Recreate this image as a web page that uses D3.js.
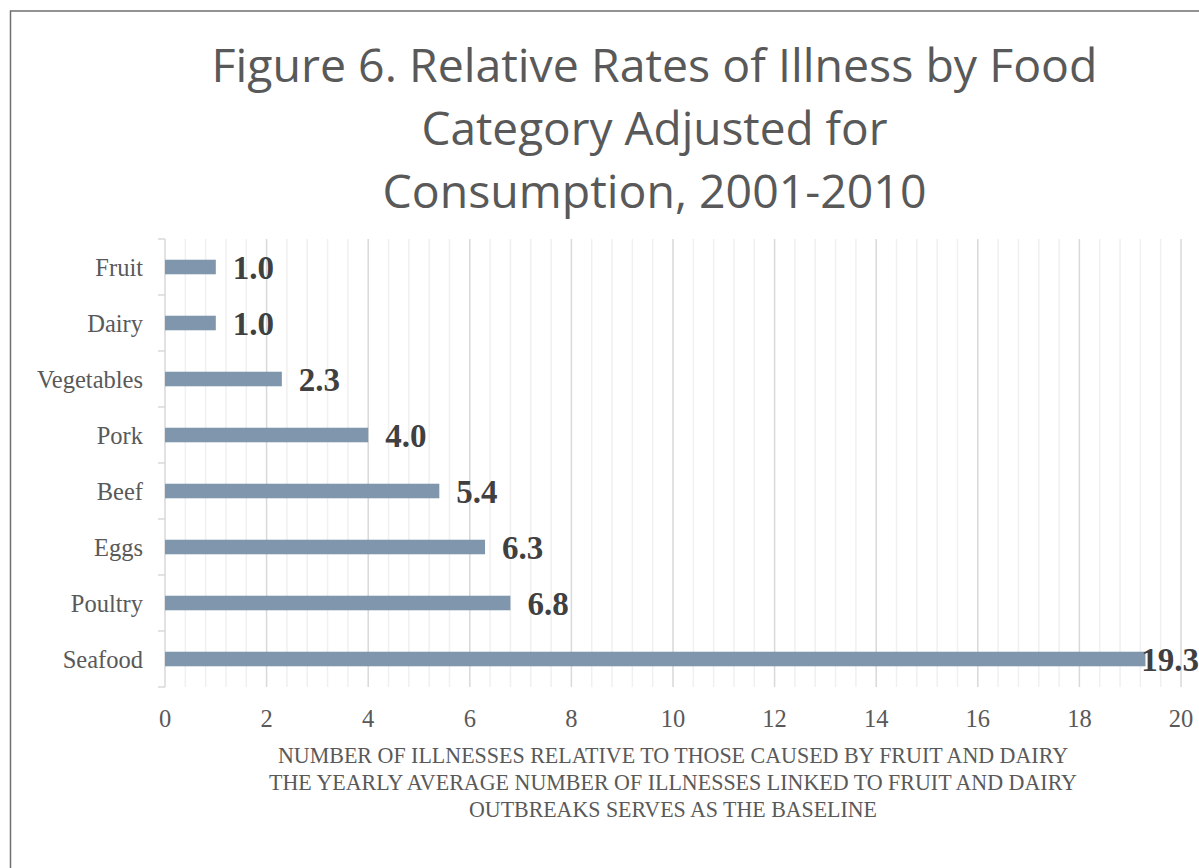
<!DOCTYPE html>
<html>
<head>
<meta charset="utf-8">
<script src="https://cdn.jsdelivr.net/npm/d3@7"></script>
<style>
  html, body { margin: 0; padding: 0; background: #ffffff; overflow: hidden; }
  svg { display: block; }
</style>
</head>
<body>
<svg id="chart" width="1199" height="868"></svg>
<script>
// Food categories, top to bottom
const categories = ["Fruit", "Dairy", "Vegetables", "Pork", "Beef", "Eggs", "Poultry", "Seafood"];
// Relative illness rate (fruit and dairy = baseline)
const rates = [1.0, 1.0, 2.3, 4.0, 5.4, 6.3, 6.8, 19.3];
// X axis tick values
const xTicks = [0, 2, 4, 6, 8, 10, 12, 14, 16, 18, 20];

const titleLines = [
  "Figure 6. Relative Rates of Illness by Food",
  "Category Adjusted for",
  "Consumption, 2001-2010"
];
const axisTitleLines = [
  "NUMBER OF ILLNESSES RELATIVE TO THOSE CAUSED BY FRUIT AND DAIRY",
  "THE YEARLY AVERAGE NUMBER OF ILLNESSES LINKED TO FRUIT AND DAIRY",
  "OUTBREAKS SERVES AS THE BASELINE"
];

const W = 1199, H = 868;
const svg = d3.select("#chart");
const serif = "'Liberation Serif', 'DejaVu Serif', serif";
const sans = "'Open Sans', 'Noto Sans', 'DejaVu Sans', sans-serif";

// chart frame (runs past the right and bottom edges)
svg.append("rect")
  .attr("x", 10.5).attr("y", 11)
  .attr("width", 1400).attr("height", 1000)
  .attr("fill", "none").attr("stroke", "#6f6f6f").attr("stroke-width", 1.5);

const plot = { left: 165, right: 1181, top: 239, bottom: 687 };

const x = d3.scaleLinear().domain([0, 20]).range([plot.left, plot.right]);
const y = d3.scaleBand().domain(categories).range([plot.top, plot.bottom]).padding(0);

// minor gridlines every 0.4
const minor = d3.range(0, 20.0001, 0.4).filter(v => Math.abs(v / 2 - Math.round(v / 2)) > 1e-6);
svg.append("g").selectAll("line").data(minor).join("line")
  .attr("x1", d => x(d)).attr("x2", d => x(d))
  .attr("y1", plot.top).attr("y2", plot.bottom)
  .attr("stroke", "#f0f0f0").attr("stroke-width", 1.5);

// major gridlines
svg.append("g").selectAll("line").data(xTicks.filter(d => d > 0)).join("line")
  .attr("x1", d => x(d)).attr("x2", d => x(d))
  .attr("y1", plot.top).attr("y2", plot.bottom)
  .attr("stroke", "#d9d9d9").attr("stroke-width", 1.5);

// category axis with ticks between bands
const yAxis = svg.append("g");
yAxis.append("line")
  .attr("x1", plot.left).attr("x2", plot.left)
  .attr("y1", plot.top).attr("y2", plot.bottom)
  .attr("stroke", "#d9d9d9").attr("stroke-width", 1.5);
const bounds = categories.map(c => y(c)).concat([plot.bottom]);
yAxis.selectAll("line.tk").data(bounds).join("line").attr("class", "tk")
  .attr("x1", plot.left - 7).attr("x2", plot.left)
  .attr("y1", d => d).attr("y2", d => d)
  .attr("stroke", "#d9d9d9").attr("stroke-width", 1.5);

yAxis.selectAll("text").data(categories).join("text")
  .attr("x", 143)
  .attr("y", d => y(d) + y.bandwidth() / 2 + 8.5)
  .attr("text-anchor", "end")
  .attr("font-family", serif).attr("font-size", 24.5)
  .attr("fill", "#595959")
  .text(d => d);

// bars
const barH = y.bandwidth() * 0.26;
svg.append("g").selectAll("rect").data(categories).join("rect")
  .attr("x", x(0))
  .attr("y", d => y(d) + y.bandwidth() / 2 - barH / 2)
  .attr("width", (d, i) => x(rates[i]) - x(0))
  .attr("height", barH)
  .attr("fill", "#7f96ad");

// value labels, kept inside the chart area
const vl = svg.append("g").selectAll("text").data(categories).join("text")
  .attr("y", d => y(d) + y.bandwidth() / 2 + 12)
  .attr("font-family", serif).attr("font-weight", "bold").attr("font-size", 33)
  .attr("fill", "#404040")
  .text((d, i) => rates[i].toFixed(1));
vl.each(function (d, i) {
  const w = this.getComputedTextLength();
  const px = Math.min(x(rates[i]) + 17, W - w);
  d3.select(this).attr("x", px);
});

// x tick labels
svg.append("g").selectAll("text").data(xTicks).join("text")
  .attr("x", d => x(d)).attr("y", 726.5)
  .attr("text-anchor", "middle")
  .attr("font-family", serif).attr("font-size", 24.5)
  .attr("fill", "#595959")
  .text(d => d);

// x axis title
const axisTitleSpec = [
  { y: 762.5, len: 790 },
  { y: 790, len: 808 },
  { y: 817, len: 408 }
];
svg.append("g").selectAll("text").data(axisTitleLines).join("text")
  .attr("x", 673)
  .attr("y", (d, i) => axisTitleSpec[i].y)
  .attr("text-anchor", "middle")
  .attr("font-family", serif).attr("font-size", 24)
  .attr("fill", "#595959")
  .attr("textLength", (d, i) => axisTitleSpec[i].len)
  .attr("lengthAdjust", "spacingAndGlyphs")
  .text(d => d);

// chart title
const titleSpec = [
  { y: 82, len: 886 },
  { y: 145, len: 466 },
  { y: 208, len: 544 }
];
svg.append("g").selectAll("text").data(titleLines).join("text")
  .attr("x", 654.5)
  .attr("y", (d, i) => titleSpec[i].y)
  .attr("text-anchor", "middle")
  .attr("font-family", sans).attr("font-size", 46)
  .attr("fill", "#595959")
  .attr("textLength", (d, i) => titleSpec[i].len)
  .attr("lengthAdjust", "spacingAndGlyphs")
  .text(d => d);
</script>
</body>
</html>
